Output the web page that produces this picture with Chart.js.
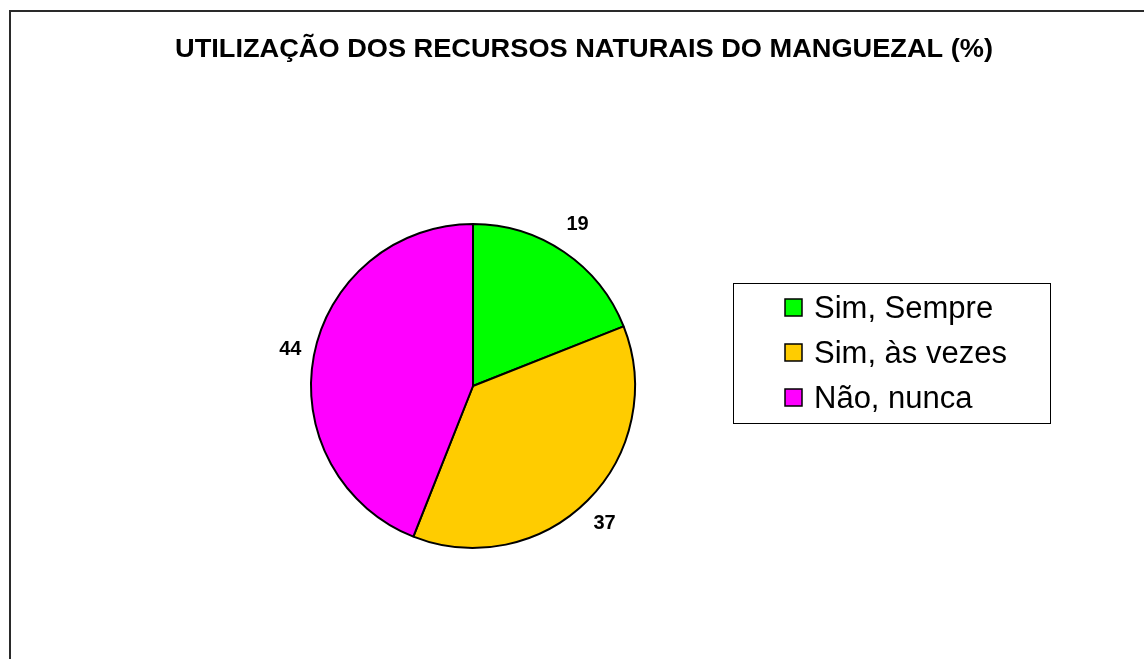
<!DOCTYPE html>
<html>
<head>
<meta charset="utf-8">
<script src="https://cdn.jsdelivr.net/npm/chart.js@4.4.0/dist/chart.umd.min.js"></script>
<style>
  html, body { margin: 0; padding: 0; background: #fff; }
  #wrap { width: 1144px; height: 659px; }
</style>
</head>
<body>
<div id="wrap"><canvas id="pie-chart"></canvas></div>
<script>
var categories = ["Sim, Sempre", "Sim, às vezes", "Não, nunca"];
var percentages = [19, 37, 44];
var sliceColors = ["#00FF00", "#FFCC00", "#FF00FF"];
var chartTitle = "UTILIZAÇÃO DOS RECURSOS NATURAIS DO MANGUEZAL (%)";

// frame, title, value labels and boxed legend, drawn like the old spreadsheet chart
var extrasPlugin = {
  id: "extras",
  afterDraw: function (chart) {
    var ctx = chart.ctx;
    ctx.save();

    // outer frame (runs off the right and bottom edges)
    ctx.strokeStyle = "#2a2a2a";
    ctx.lineWidth = 2;
    ctx.strokeRect(10, 11, 1200, 700);

    // title, squeezed to the original width
    ctx.fillStyle = "#000";
    ctx.font = "bold 26px 'Liberation Sans', Arial, sans-serif";
    ctx.textAlign = "center";
    ctx.textBaseline = "alphabetic";
    var w = ctx.measureText(chartTitle).width;
    var sx = 818 / w;
    ctx.save();
    ctx.translate(584, 57);
    ctx.scale(sx, 1);
    ctx.fillText(chartTitle, 0, 0);
    ctx.restore();

    // value labels outside each slice
    var meta = chart.getDatasetMeta(0);
    ctx.font = "bold 20px 'Liberation Sans', Arial, sans-serif";
    ctx.textBaseline = "middle";
    meta.data.forEach(function (arc, i) {
      var mid = (arc.startAngle + arc.endAngle) / 2;
      var x = arc.x + Math.cos(mid) * (arc.outerRadius + 24);
      var y = arc.y + Math.sin(mid) * (arc.outerRadius + 33);
      ctx.fillText(String(percentages[i]), x, y);
    });

    // legend box
    ctx.strokeStyle = "#000";
    ctx.lineWidth = 1;
    ctx.strokeRect(733.5, 283.5, 317, 140);
    ctx.font = "31px 'Liberation Sans', Arial, sans-serif";
    ctx.textAlign = "left";
    ctx.textBaseline = "alphabetic";
    categories.forEach(function (name, i) {
      var base = 318 + i * 45;
      ctx.fillStyle = sliceColors[i];
      ctx.fillRect(785, base - 19, 17, 17);
      ctx.lineWidth = 1.5;
      ctx.strokeRect(785, base - 19, 17, 17);
      ctx.fillStyle = "#000";
      ctx.fillText(name, 814, base);
    });

    ctx.restore();
  }
};

var config = {
  type: "pie",
  data: {
    labels: categories,
    datasets: [
      {
        data: percentages,
        backgroundColor: sliceColors,
        borderColor: "#000",
        borderWidth: 2,
      },
    ],
  },
  options: {
    responsive: true,
    maintainAspectRatio: false,
    animation: false,
    layout: {
      padding: { left: 310, right: 508, top: 223, bottom: 110 },
    },
    plugins: {
      legend: { display: false },
      title: { display: false },
      tooltip: { enabled: false },
    },
  },
  plugins: [extrasPlugin],
};

var ctxOne = document.getElementById("pie-chart").getContext("2d");
new Chart(ctxOne, config);
</script>
</body>
</html>
